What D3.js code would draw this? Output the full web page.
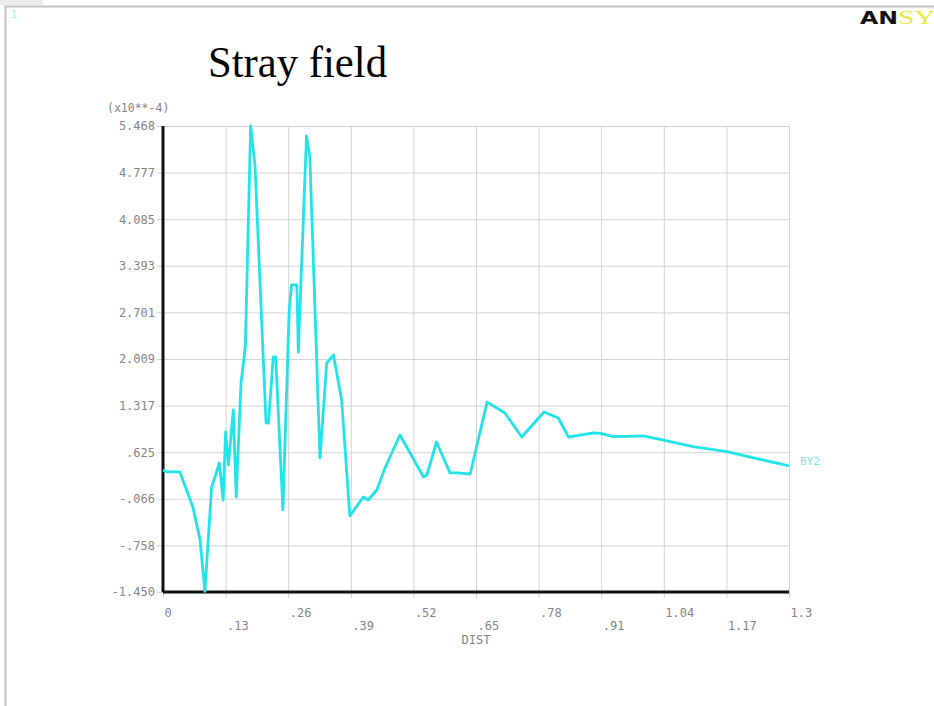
<!DOCTYPE html>
<html>
<head>
<meta charset="utf-8">
<script src="https://cdn.jsdelivr.net/npm/d3@7"></script>
<style>
  body { margin: 0; background: #fff; }
  .tick text { font-family: "DejaVu Sans Mono", monospace; font-size: 12px; fill: #858585; }
  .grid line { stroke: #d3d3d3; stroke-width: 1; }
  .grid path { display: none; }
</style>
</head>
<body>
<div id="chart"></div>
<script>
// BY2 along DIST (values in 1e-4)
var dist = [0, 0.008, 0.035, 0.062, 0.077, 0.087, 0.101, 0.108, 0.117, 0.125,
  0.130, 0.136, 0.146, 0.152, 0.162, 0.171, 0.182, 0.191, 0.214, 0.219,
  0.229, 0.234, 0.249, 0.262, 0.267, 0.278, 0.281, 0.298, 0.305, 0.326,
  0.340, 0.354, 0.371, 0.388, 0.416, 0.426, 0.444, 0.461, 0.492, 0.541,
  0.548, 0.568, 0.596, 0.610, 0.638, 0.673, 0.710, 0.745, 0.791, 0.821,
  0.842, 0.894, 0.908, 0.935, 0.997, 1.032, 1.101, 1.171, 1.240, 1.300];
var by2 = [0.361, 0.332, 0.332, -0.188, -0.678, -1.44, 0.109, 0.257, 0.465, -0.084,
  0.925, 0.436, 1.252, -0.039, 1.653, 2.187, 5.468, 4.889, 1.059, 1.059,
  2.039, 2.039, -0.232, 2.722, 3.108, 3.108, 2.113, 5.32, 5.008, 0.540,
  1.950, 2.069, 1.400, -0.322, -0.039, -0.084, 0.064, 0.391, 0.881, 0.257,
  0.287, 0.777, 0.317, 0.317, 0.302, 1.371, 1.208, 0.851, 1.222, 1.133,
  0.851, 0.911, 0.906, 0.856, 0.866, 0.817, 0.707, 0.633, 0.520, 0.421];

var xTicks = [0, 0.13, 0.26, 0.39, 0.52, 0.65, 0.78, 0.91, 1.04, 1.17, 1.3];
var xTickLabels = ["0", ".13", ".26", ".39", ".52", ".65", ".78", ".91", "1.04", "1.17", "1.3"];
var yTicks = [-1.450, -0.758, -0.066, 0.625, 1.317, 2.009, 2.701, 3.393, 4.085, 4.777, 5.468];
var yTickLabels = ["-1.450", "-.758", "-.066", ".625", "1.317", "2.009", "2.701", "3.393", "4.085", "4.777", "5.468"];

var svgWidth = 934;
var svgHeight = 706;
var margin = { top: 126, left: 163 };
var width = 626;
var height = 466;

var svg = d3.select("#chart")
  .append("svg")
  .attr("width", svgWidth)
  .attr("height", svgHeight);

// page frame like the screenshot
svg.append("rect").attr("x", 0).attr("y", 0).attr("width", 43).attr("height", 5).attr("fill", "#ecebe7");
svg.append("line").attr("x1", 4).attr("x2", svgWidth).attr("y1", 6.5).attr("y2", 6.5)
  .attr("stroke", "#c4c4c4").attr("stroke-width", 2);
svg.append("line").attr("x1", 5.5).attr("x2", 5.5).attr("y1", 6).attr("y2", svgHeight)
  .attr("stroke", "#c4c4c4").attr("stroke-width", 2);
svg.append("text").attr("x", 11).attr("y", 18).text("1")
  .style("font-family", "DejaVu Sans Mono").style("font-size", "10px").style("fill", "#9eeef0");

// ANSYS logo (cut at the right edge)
svg.append("text").attr("x", 860).attr("y", 24).text("AN")
  .attr("textLength", 38).attr("lengthAdjust", "spacingAndGlyphs")
  .style("font-family", "DejaVu Sans").style("font-weight", "bold").style("font-size", "17px").style("fill", "#111");
svg.append("text").attr("x", 898).attr("y", 24).text("SYS")
  .attr("textLength", 54).attr("lengthAdjust", "spacingAndGlyphs")
  .style("font-family", "Liberation Serif").style("font-size", "18px").style("fill", "#eaea3c");

// title
svg.append("text").attr("x", 208).attr("y", 77).text("Stray field")
  .attr("textLength", 179).attr("lengthAdjust", "spacingAndGlyphs")
  .style("font-family", "Liberation Serif").style("font-size", "45px").style("fill", "#000");

var chartGroup = svg.append("g")
  .attr("transform", `translate(${margin.left}, ${margin.top})`);

var xScale = d3.scaleLinear().domain([0, 1.3]).range([0, width]);
var yScale = d3.scaleLinear().domain([-1.450, 5.468]).range([height, 0]);

// grid + ticks, lines poke out 6px past the axes
var leftAxis = d3.axisLeft(yScale)
  .tickValues(yTicks)
  .tickFormat((d, i) => yTickLabels[i])
  .tickSize(-(width + 6))
  .tickPadding(2);

chartGroup.append("g")
  .attr("class", "grid")
  .attr("transform", "translate(-6, 0)")
  .call(leftAxis);

var bottomAxis = d3.axisBottom(xScale)
  .tickValues(xTicks)
  .tickFormat((d, i) => xTickLabels[i])
  .tickSize(-(height + 6))
  .tickPadding(0);

var xg = chartGroup.append("g")
  .attr("class", "grid")
  .attr("transform", `translate(0, ${height + 6})`)
  .call(bottomAxis);

// labels alternate between two rows
xg.selectAll(".tick text")
  .attr("text-anchor", "start")
  .attr("x", 1)
  .attr("dy", null)
  .attr("y", (d, i) => i % 2 == 0 ? 19 : 32);

// axis units and label
chartGroup.append("text")
  .attr("x", -56).attr("y", -14)
  .text("(x10**-4)")
  .style("font-family", "DejaVu Sans Mono").style("font-size", "11.5px").style("fill", "#858585");

chartGroup.append("text")
  .attr("x", width / 2).attr("y", height + 52)
  .attr("text-anchor", "middle")
  .text("DIST")
  .style("font-family", "DejaVu Sans Mono").style("font-size", "12px").style("fill", "#858585");

// black axis lines
chartGroup.append("line")
  .attr("x1", xScale(0)).attr("x2", xScale(0))
  .attr("y1", yScale(5.468)).attr("y2", yScale(-1.450))
  .attr("stroke", "#111").attr("stroke-width", 3);
chartGroup.append("line")
  .attr("x1", xScale(0)).attr("x2", xScale(1.3))
  .attr("y1", yScale(-1.450)).attr("y2", yScale(-1.450))
  .attr("stroke", "#111").attr("stroke-width", 3);

// the curve
var line = d3.line()
  .x((d, i) => xScale(dist[i]))
  .y(d => yScale(d));

chartGroup.append("path")
  .datum(by2)
  .attr("d", line)
  .attr("fill", "none")
  .attr("stroke", "#22e3e8")
  .attr("stroke-width", 2.8)
  .attr("stroke-linejoin", "round");

chartGroup.append("text")
  .attr("x", xScale(1.3) + 11)
  .attr("y", yScale(by2[by2.length - 1]) - 1)
  .text("BY2")
  .style("font-family", "DejaVu Sans Mono").style("font-size", "11px").style("fill", "#7fe6ea");
</script>
</body>
</html>
